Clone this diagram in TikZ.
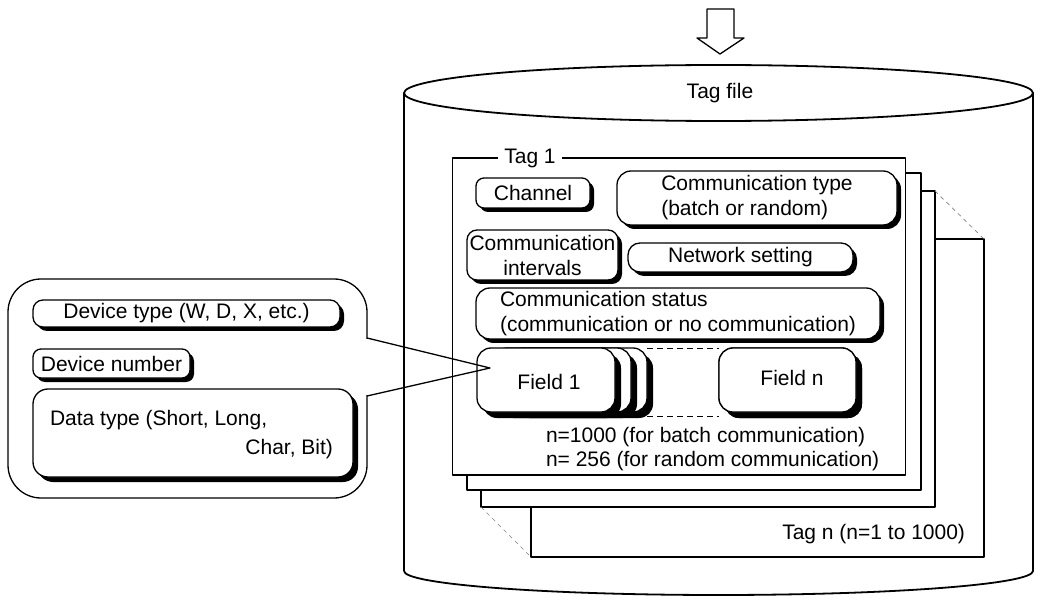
\documentclass[tikz,border=0pt]{standalone}
\usepackage{fontspec}
\setmainfont{Liberation Sans}
\usetikzlibrary{shadows}
\begin{document}
\begin{tikzpicture}[x=1pt,y=-1pt,line join=round,
  every node/.style={font=\fontsize{21}{25}\selectfont,inner sep=0pt,outer sep=0pt},
  tb/.style={draw,fill=white,line width=1.3pt,
    drop shadow={shadow xshift=4pt,shadow yshift=-4pt,fill=black,opacity=1}},
  fb/.style={draw,fill=white,line width=1.3pt,rounded corners=14pt,
    minimum width=138pt,minimum height=64pt,
    drop shadow={shadow xshift=6pt,shadow yshift=-6pt,fill=black,opacity=1}},
  frame/.style={draw,fill=white,line width=1.2pt,rectangle},
  diag/.style={draw=gray,line width=0.7pt,dash pattern=on 4pt off 4pt},
  link/.style={draw,line width=0.9pt,dash pattern=on 6pt off 4pt},
  thin/.style={line width=1.3pt}]
\useasboundingbox (0,0) rectangle (1037,596);
% cylinder
\draw[line width=1.8pt] (404,93) -- (404,571) (1033,93) -- (1033,571);
\draw[line width=1.8pt] (718.5,93) ellipse [x radius=314.5pt,y radius=28pt];
\begin{scope}
\clip (380,571) rectangle (1037,596);
\draw[line width=1.8pt] (718.5,571) ellipse [x radius=314.5pt,y radius=24pt];
\end{scope}
\node[anchor=base] (tagfile) at (720,99) {Tag file};
% arrow
\draw[thin,fill=white] (707,9) -- (734,9) -- (734,38) -- (744,38) -- (720,54) -- (697,38) -- (707,38) -- cycle;
% frames
\node[frame,minimum width=453pt,minimum height=318pt] (f4) at (757.5,398) {};
\node[frame,minimum width=454pt,minimum height=316pt] (f3) at (708,349) {};
\node[frame,minimum width=454pt,minimum height=317pt] (f2) at (694,331.5) {};
\node[frame,minimum width=453pt,minimum height=317pt] (f1) at (679,316.5) {};
\draw[diag] (f3.north east) -- (f4.north east);
\draw[diag] (f3.south west) -- (f4.south west);
\node[fill=white,inner xsep=6pt,inner ysep=2pt] (tag1) at (530,158) {Tag 1};
\node[anchor=base east] (tagn) at (965,539.5) {Tag n (n=1 to 1000)};
% boxes in tag 1
\node[tb,rounded corners=8pt,minimum width=114pt,minimum height=30pt] (chan) at (533,193) {Channel};
\node[tb,rounded corners=14pt,minimum width=280pt,minimum height=54pt,align=left] (ctype) at (757,198) {Communication type\\(batch or random)};
\node[tb,rounded corners=10pt,minimum width=151pt,minimum height=50pt,align=center] (cint) at (542.5,255) {Communication\\intervals};
\node[tb,rounded corners=12pt,minimum width=225pt,minimum height=29pt] (net) at (740.5,257.5) {Network setting};
\node[tb,rounded corners=14pt,minimum width=404pt,minimum height=51pt,align=left] (cstat) at (678,313.5) {Communication status\\(communication or no communication)};
% fields
\coordinate (fnw) at (719,348);
\node[fb] (fb2) at (578,380) {};
\node[fb] (fb1) at (562,380) {};
\node[fb] (fld1) at (546,380) {};
\node[fb,minimum width=137pt] (fldn) at (787.5,380) {};
\draw[link] (fb2.north east) -- (fldn.north west);
\draw[link] ([yshift=-4pt]fb2.south east) -- ([yshift=-4pt]fldn.south west);
\node[fb,minimum width=137pt] (fldn2) at (787.5,380) {};
\node (f1t) at (549,382) {Field 1};
\node (fnt) at (792,378) {Field n};
\node[anchor=base west] (n1) at (546,442.5) {n=1000 (for batch communication)};
\node[anchor=base west] (n2) at (546,466.5) {n= 256 (for random communication)};
% callout
\node[draw,fill=white,line width=1.3pt,rounded corners=33pt,minimum width=359pt,minimum height=219pt] (call) at (187.5,388.5) {};
\coordinate (p1) at (367,338);
\coordinate (p2) at (367,396);
\coordinate (tip) at (490,368);
\draw[white,line width=2.5pt] (367,339.5) -- (367,394.5);
\draw[thin] (p1) -- (tip) -- (p2);
\node[tb,rounded corners=10pt,minimum width=307pt,minimum height=27pt] (dtype) at (186.5,313.5) {Device type (W, D, X, etc.)};
\node[tb,rounded corners=8pt,minimum width=157pt,minimum height=29pt] (dnum) at (111.5,363.5) {Device number};
\node[tb,rounded corners=15pt,minimum width=320pt,minimum height=88pt,
  drop shadow={shadow xshift=5pt,shadow yshift=-5pt,fill=black,opacity=1}] (data) at (193,433) {};
\node[anchor=base west] (d1) at (50,425.5) {Data type (Short, Long,};
\node[anchor=base east] (d2) at (333,454.5) {Char, Bit)};
\end{tikzpicture}
\end{document}
